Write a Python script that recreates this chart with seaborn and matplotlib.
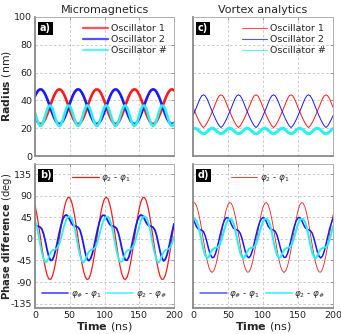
import numpy as np
import matplotlib
matplotlib.use("Agg")
import matplotlib.pyplot as plt
from matplotlib.lines import Line2D
import seaborn as sns

# ---- data (time grid: 0..200 ns, every 2.5 ns) ----
time_ns = np.linspace(0, 200, 81)

# a) micromagnetics, radius (nm)
rad_mm_osc1 = [28.0, 25.5, 23.7, 23.0, 23.3, 24.7, 26.9, 29.9, 33.3, 37.0,
               40.4, 43.5, 45.9, 47.5, 48.0, 47.5, 45.9, 43.5, 40.4, 37.0,
               33.3, 29.9, 26.9, 24.7, 23.3, 23.0, 23.7, 25.5, 28.0, 31.2,
               34.8, 38.4, 41.7, 44.6, 46.7, 47.8, 47.9, 47.0, 45.1, 42.4,
               39.1, 35.5, 31.9, 28.6, 25.9, 24.0, 23.1, 23.2, 24.3, 26.4,
               29.2, 32.6, 36.2, 39.8, 43.0, 45.5, 47.2, 48.0, 47.7, 46.3,
               44.1, 41.1, 37.7, 34.0, 30.5, 27.5, 25.0, 23.5, 23.0, 23.5,
               25.0, 27.5, 30.5, 34.0, 37.7, 41.1, 44.1, 46.3, 47.7, 48.0,
               47.2]
rad_mm_osc2 = [43.0, 45.5, 47.3, 48.0, 47.7, 46.3, 44.1, 41.1, 37.7, 34.0,
               30.6, 27.5, 25.1, 23.5, 23.0, 23.5, 25.1, 27.5, 30.6, 34.0,
               37.7, 41.1, 44.1, 46.3, 47.7, 48.0, 47.3, 45.5, 43.0, 39.8,
               36.2, 32.6, 29.3, 26.4, 24.3, 23.2, 23.1, 24.0, 25.9, 28.6,
               31.9, 35.5, 39.1, 42.4, 45.1, 47.0, 47.9, 47.8, 46.7, 44.6,
               41.8, 38.4, 34.8, 31.2, 28.0, 25.5, 23.8, 23.0, 23.3, 24.7,
               26.9, 29.9, 33.3, 37.0, 40.5, 43.5, 46.0, 47.5, 48.0, 47.5,
               46.0, 43.5, 40.5, 37.0, 33.3, 29.9, 26.9, 24.7, 23.3, 23.0,
               23.8]
rad_mm_osch = [31.2, 26.9, 23.3, 21.6, 22.3, 25.3, 29.4, 33.5, 36.1, 36.3,
               34.2, 30.3, 26.0, 22.7, 21.5, 22.7, 26.0, 30.3, 34.2, 36.3,
               36.1, 33.5, 29.4, 25.3, 22.3, 21.6, 23.3, 26.9, 31.2, 34.8,
               36.5, 35.7, 32.8, 28.6, 24.5, 22.0, 21.7, 23.9, 27.7, 32.0,
               35.3, 36.5, 35.3, 32.0, 27.7, 23.9, 21.7, 22.0, 24.5, 28.6,
               32.8, 35.7, 36.5, 34.8, 31.2, 26.9, 23.3, 21.6, 22.3, 25.3,
               29.4, 33.5, 36.1, 36.3, 34.2, 30.3, 26.0, 22.7, 21.5, 22.7,
               26.0, 30.3, 34.2, 36.3, 36.1, 33.5, 29.4, 25.3, 22.3, 21.6,
               23.3]

# c) vortex analytics, radius (nm)
rad_va_osc1 = [35.0, 32.0, 29.0, 26.2, 23.8, 21.7, 20.5, 21.7, 23.8, 26.2,
               29.0, 32.0, 35.0, 38.2, 41.2, 43.3, 44.0, 43.3, 41.2, 38.2,
               35.0, 32.0, 29.0, 26.2, 23.8, 21.7, 20.5, 21.7, 23.8, 26.2,
               29.0, 32.0, 35.0, 38.2, 41.2, 43.3, 44.0, 43.3, 41.2, 38.2,
               35.0, 32.0, 29.0, 26.2, 23.8, 21.7, 20.5, 21.7, 23.8, 26.2,
               29.0, 32.0, 35.0, 38.2, 41.2, 43.3, 44.0, 43.3, 41.2, 38.2,
               35.0, 32.0, 29.0, 26.2, 23.8, 21.7, 20.5, 21.7, 23.8, 26.2,
               29.0, 32.0, 35.0, 38.2, 41.2, 43.3, 44.0, 43.3, 41.2, 38.2,
               35.0]
rad_va_osc2 = [29.0, 32.0, 35.0, 38.2, 41.2, 43.3, 44.0, 43.3, 41.2, 38.2,
               35.0, 32.0, 29.0, 26.2, 23.8, 21.7, 20.5, 21.7, 23.8, 26.2,
               29.0, 32.0, 35.0, 38.2, 41.2, 43.3, 44.0, 43.3, 41.2, 38.2,
               35.0, 32.0, 29.0, 26.2, 23.8, 21.7, 20.5, 21.7, 23.8, 26.2,
               29.0, 32.0, 35.0, 38.2, 41.2, 43.3, 44.0, 43.3, 41.2, 38.2,
               35.0, 32.0, 29.0, 26.2, 23.8, 21.7, 20.5, 21.7, 23.8, 26.2,
               29.0, 32.0, 35.0, 38.2, 41.2, 43.3, 44.0, 43.3, 41.2, 38.2,
               35.0, 32.0, 29.0, 26.2, 23.8, 21.7, 20.5, 21.7, 23.8, 26.2,
               29.0]
rad_va_osch = [19.6, 20.0, 19.6, 18.6, 17.4, 16.4, 16.0, 16.4, 17.4, 18.6,
               19.6, 20.0, 19.6, 18.6, 17.4, 16.4, 16.0, 16.4, 17.4, 18.6,
               19.6, 20.0, 19.6, 18.6, 17.4, 16.4, 16.0, 16.4, 17.4, 18.6,
               19.6, 20.0, 19.6, 18.6, 17.4, 16.4, 16.0, 16.4, 17.4, 18.6,
               19.6, 20.0, 19.6, 18.6, 17.4, 16.4, 16.0, 16.4, 17.4, 18.6,
               19.6, 20.0, 19.6, 18.6, 17.4, 16.4, 16.0, 16.4, 17.4, 18.6,
               19.6, 20.0, 19.6, 18.6, 17.4, 16.4, 16.0, 16.4, 17.4, 18.6,
               19.6, 20.0, 19.6, 18.6, 17.4, 16.4, 16.0, 16.4, 17.4, 18.6,
               19.6]

# b) micromagnetics, phase difference (deg)
ph_mm_21 = [70.0, 52.3, 30.4, 6.0, -18.9, -42.0, -61.5, -75.9, -83.7, -84.4,
            -77.9, -64.9, -46.3, -23.7, 1.0, 25.7, 48.3, 66.9, 79.9, 86.4,
            85.7, 77.9, 63.5, 44.0, 20.9, -4.0, -28.4, -50.3, -68.0, -79.8,
            -84.8, -82.7, -73.5, -58.0, -37.6, -14.0, 11.0, 35.1, 56.3, 72.9,
            83.4, 87.0, 83.4, 72.9, 56.3, 35.1, 11.0, -14.0, -37.6, -58.0,
            -73.5, -82.7, -84.8, -79.8, -68.0, -50.3, -28.4, -4.0, 20.9, 44.0,
            63.5, 77.9, 85.7, 86.4, 79.9, 66.9, 48.3, 25.7, 1.0, -23.7,
            -46.3, -64.9, -78.0, -84.4, -83.7, -75.9, -61.5, -42.0, -18.9, 6.0,
            30.4]
ph_mm_h1 = [29.5, 27.2, 26.0, 24.5, 20.0, 9.5, -6.0, -23.3, -37.5, -45.0,
            -44.0, -35.5, -21.5, -4.5, 13.0, 28.8, 41.0, 48.0, 50.0, 46.8,
            40.0, 32.5, 28.0, 26.8, 25.5, 23.5, 17.0, 4.0, -13.0, -30.0,
            -42.0, -45.5, -41.0, -30.5, -15.0, 2.5, 19.5, 34.0, 45.0, 49.3,
            49.0, 44.3, 37.0, 30.2, 27.5, 26.2, 25.0, 21.5, 12.0, -2.8,
            -20.0, -35.3, -44.0, -44.5, -38.0, -24.8, -8.0, 9.5, 26.0, 39.0,
            47.0, 49.8, 48.0, 41.5, 34.0, 28.8, 27.0, 25.8, 24.0, 18.5,
            7.0, -9.5, -26.5, -39.8, -46.0, -42.5, -33.0, -18.3, -1.0, 16.3,
            31.5]
ph_mm_2h = [39.3, 26.2, 7.8, -11.8, -29.2, -42.2, -48.9, -46.6, -37.4, -28.7,
            -23.8, -22.7, -21.2, -18.0, -10.4, 1.8, 16.0, 29.5, 40.3, 45.4,
            46.7, 43.6, 34.4, 19.0, -0.2, -19.4, -35.4, -46.3, -49.3, -43.4,
            -33.8, -26.4, -23.4, -22.3, -20.3, -16.2, -6.2, 7.3, 21.5, 34.0,
            42.6, 46.2, 46.3, 40.9, 29.5, 11.8, -8.0, -26.0, -40.0, -48.0,
            -47.5, -39.4, -30.2, -24.2, -22.9, -21.6, -18.8, -12.4, -0.9, 13.1,
            26.8, 38.4, 44.8, 46.9, 44.9, 36.8, 22.6, 3.8, -15.6, -32.3,
            -44.4, -49.8, -45.4, -35.6, -27.6, -23.6, -22.5, -20.8, -17.1, -8.4,
            4.5]

# d) vortex analytics, phase difference (deg)
ph_va_21 = [74.9, 75.3, 69.1, 56.8, 39.5, 18.8, -3.4, -25.0, -43.9, -58.5,
            -67.5, -69.9, -65.6, -54.9, -38.9, -19.0, 3.0, 25.0, 44.9, 60.9,
            71.6, 75.9, 73.5, 64.5, 49.9, 31.0, 9.4, -12.8, -33.5, -50.8,
            -63.1, -69.3, -68.9, -61.8, -48.6, -30.7, -9.7, 12.6, 33.9, 52.3,
            66.2, 74.2, 75.7, 70.5, 58.9, 42.2, 21.9, -0.2, -22.0, -41.5,
            -56.8, -66.6, -70.0, -66.6, -56.8, -41.5, -22.0, -0.2, 21.9, 42.2,
            58.9, 70.5, 75.7, 74.2, 66.2, 52.3, 33.9, 12.6, -9.7, -30.7,
            -48.6, -61.8, -68.9, -69.3, -63.1, -50.8, -33.5, -12.8, 9.4, 31.0,
            49.9]
ph_va_h1 = [42.0, 33.7, 25.3, 21.0, 19.3, 18.2, 15.0, 6.2, -7.3, -22.0,
            -33.3, -39.3, -38.0, -29.2, -15.7, 0.0, 15.7, 29.2, 39.0, 44.2,
            44.0, 38.5, 29.7, 22.8, 20.0, 18.8, 17.0, 11.5, 0.7, -13.8,
            -28.0, -36.7, -39.3, -34.5, -23.7, -9.2, 7.0, 21.8, 33.7, 41.5,
            44.7, 42.5, 35.0, 26.2, 21.3, 19.5, 18.3, 15.5, 8.0, -5.2,
            -20.0, -32.0, -38.7, -38.3, -31.0, -17.8, -2.3, 13.8, 27.3, 37.7,
            44.0, 44.5, 39.7, 31.0, 23.7, 20.3, 19.0, 17.5, 12.7, 2.5,
            -11.7, -26.0, -36.0, -39.7, -35.7, -25.5, -11.3, 4.7, 20.0, 32.3,
            42.3]
ph_va_2h = [41.3, 41.5, 37.7, 27.7, 12.0, -6.5, -23.0, -34.5, -40.0, -37.7,
            -29.0, -22.5, -19.7, -18.5, -17.3, -14.5, -6.0, 7.0, 20.7, 32.0,
            39.3, 41.8, 41.0, 34.3, 21.3, 4.0, -14.0, -29.0, -38.0, -40.5,
            -34.3, -26.0, -21.0, -19.2, -18.0, -16.5, -11.3, -0.5, 13.0, 26.2,
            36.0, 41.2, 41.7, 38.5, 29.3, 14.3, -4.0, -21.0, -33.3, -39.5,
            -38.3, -30.3, -23.0, -19.8, -18.7, -17.5, -15.0, -7.3, 5.0, 19.0,
            30.7, 38.5, 41.7, 41.2, 36.0, 23.7, 6.7, -11.5, -27.0, -37.0,
            -41.0, -35.7, -27.0, -21.5, -19.3, -18.2, -17.0, -12.7, -2.3, 11.0,
            26.3]

osc_labels = ["Oscillator 1", "Oscillator 2", "Oscillator #"]
phase_labels = [r"$\varphi_2$ - $\varphi_1$", r"$\varphi_\#$ - $\varphi_1$",
                r"$\varphi_2$ - $\varphi_\#$"]
time_ticks = [0, 50, 100, 150, 200]
radius_ticks = [0, 20, 40, 60, 80, 100]
phase_ticks = [-135, -90, -45, 0, 45, 90, 135]

RED, BLUE, CYAN = "#ff1a1a", "#1a1aff", "#2af0f0"

sns.set_style("white")
plt.rcParams["font.family"] = ["DejaVu Sans"]
plt.rcParams["mathtext.fontset"] = "dejavusans"
plt.rcParams["axes.unicode_minus"] = False

W, H = 341, 334
fig = plt.figure(figsize=(W / 100, H / 100), dpi=100)


def px_axes(l, t, r, b):
    return fig.add_axes([l / W, 1 - b / H, (r - l) / W, (b - t) / H])


def style(ax, yticks, ylim, show_x, show_y):
    ax.set_xlim(0, 200)
    ax.set_ylim(*ylim)
    ax.set_xticks(time_ticks)
    ax.set_yticks(yticks)
    ax.grid(True, color="#c4c4c4", lw=0.6, ls=(0, (3, 2.5)))
    ax.tick_params(direction="in", top=True, right=True, length=2.2,
                   width=0.6, color="#888888", labelsize=6.8, pad=2,
                   labelcolor="#222222")
    if not show_x:
        ax.set_xticklabels([])
    if not show_y:
        ax.set_yticklabels([])
    for side in ("left", "bottom"):
        ax.spines[side].set_color("#8a8a8a")
        ax.spines[side].set_linewidth(1.3)
    for side in ("top", "right"):
        ax.spines[side].set_color("#b0b0b0")
        ax.spines[side].set_linewidth(0.7)
    ax.set_xlabel("")
    ax.set_ylabel("")


def tag(ax, txt):
    ax.text(0.035, 0.955, txt, transform=ax.transAxes, color="white",
            fontsize=7, fontweight="bold", va="top", ha="left",
            bbox=dict(boxstyle="square,pad=0.18", fc="black", ec="none"))


ax_a = px_axes(35, 17, 174, 156)
ax_c = px_axes(193, 17, 333, 156)
ax_b = px_axes(35, 164, 174, 308)
ax_d = px_axes(193, 164, 333, 308)

# radius panels
sns.lineplot(x=time_ns, y=rad_mm_osc1, ax=ax_a, color=RED, lw=1.9)
sns.lineplot(x=time_ns, y=rad_mm_osc2, ax=ax_a, color=BLUE, lw=1.9)
sns.lineplot(x=time_ns, y=rad_mm_osch, ax=ax_a, color=CYAN, lw=1.9)

sns.lineplot(x=time_ns, y=rad_va_osc1, ax=ax_c, color=RED, lw=0.7)
sns.lineplot(x=time_ns, y=rad_va_osc2, ax=ax_c, color=BLUE, lw=0.7)
sns.lineplot(x=time_ns, y=rad_va_osch, ax=ax_c, color=CYAN, lw=2.2)

# phase panels
sns.lineplot(x=time_ns, y=ph_mm_21, ax=ax_b, color=RED, lw=0.9)
sns.lineplot(x=time_ns, y=ph_mm_h1, ax=ax_b, color=BLUE, lw=1.3)
sns.lineplot(x=time_ns, y=ph_mm_2h, ax=ax_b, color=CYAN, lw=1.3)

sns.lineplot(x=time_ns, y=ph_va_21, ax=ax_d, color=RED, lw=0.6)
sns.lineplot(x=time_ns, y=ph_va_h1, ax=ax_d, color=BLUE, lw=1.1)
sns.lineplot(x=time_ns, y=ph_va_2h, ax=ax_d, color=CYAN, lw=1.5)

style(ax_a, radius_ticks, (0, 100), False, True)
style(ax_c, radius_ticks, (0, 100), False, False)
style(ax_b, phase_ticks, (-144, 156), True, True)
style(ax_d, phase_ticks, (-144, 156), True, False)

for ax, lw in ((ax_a, 1.6), (ax_c, 0.8)):
    hs = [Line2D([], [], color=c, lw=lw, alpha=0.75) for c in (RED, BLUE, CYAN)]
    ax.legend(hs, osc_labels, loc="upper right", frameon=False, fontsize=6.8,
              handlelength=2.7, handletextpad=0.3, labelspacing=0.2,
              borderaxespad=0.35)

for ax, lws in ((ax_b, (0.9, 1.3, 1.3)), (ax_d, (0.6, 1.1, 1.5))):
    top = ax.legend([Line2D([], [], color=RED, lw=lws[0])], phase_labels[:1],
                    loc="upper center", bbox_to_anchor=(0.48, 0.975),
                    frameon=False, fontsize=6.3, handlelength=3.0,
                    handletextpad=0.3, borderaxespad=0.2)
    ax.add_artist(top)
    ax.legend([Line2D([], [], color=BLUE, lw=lws[1], alpha=0.75),
               Line2D([], [], color=CYAN, lw=lws[2], alpha=0.75)],
              phase_labels[1:], loc="lower center", bbox_to_anchor=(0.5, 0.02),
              ncol=2, frameon=False, fontsize=6.3, handlelength=3.0,
              handletextpad=0.3, columnspacing=0.6, borderaxespad=0.2)

for ax, t in ((ax_a, "a)"), (ax_b, "b)"), (ax_c, "c)"), (ax_d, "d)")):
    tag(ax, t)

ax_a.set_title("Micromagnetics", fontsize=8, pad=3)
ax_c.set_title("Vortex analytics", fontsize=8, pad=3)
fig.text(7 / W, 1 - 86 / H, r"$\mathbf{Radius}$ (nm)", rotation=90,
         ha="center", va="center", fontsize=7.8)
fig.text(7 / W, 1 - 236 / H, r"$\mathbf{Phase\ difference}$ (deg)",
         rotation=90, ha="center", va="center", fontsize=7.3)
ax_b.set_xlabel(r"$\mathbf{Time}$ (ns)", fontsize=8, labelpad=0)
ax_d.set_xlabel(r"$\mathbf{Time}$ (ns)", fontsize=8, labelpad=0)

fig.savefig("out.png", dpi=100)
